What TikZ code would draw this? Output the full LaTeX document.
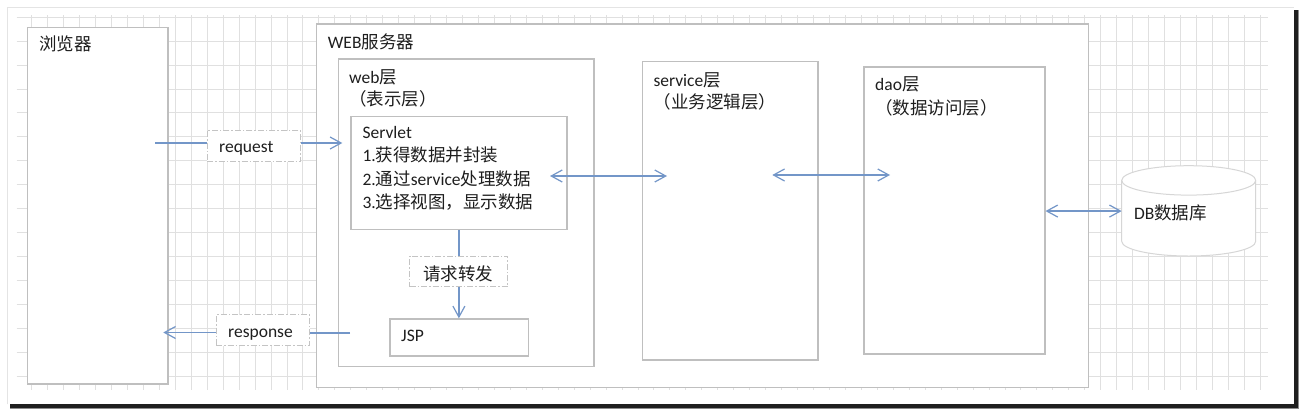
\documentclass[tikz,border=0pt]{standalone}
\usepackage{fontspec}
\setmainfont{Carlito}
\newfontfamily\cjk{Noto Sans CJK SC}
\usetikzlibrary{arrows.meta}
\definecolor{boxcol}{HTML}{BFBFBF}
\definecolor{gridcol}{HTML}{E0E0E0}
\definecolor{arrowcol}{RGB}{115,150,200}
\definecolor{dashcol}{HTML}{C4C4C4}
\definecolor{textcol}{HTML}{1E1E1E}
\definecolor{cylcol}{HTML}{D6D6D6}
\definecolor{pageedge}{HTML}{E4E4E4}
\newcommand{\zh}[1]{{\cjk #1}}
\begin{document}
\begin{tikzpicture}[x=1pt,y=-1pt,
  >={Straight Barb[length=11pt,width=12pt]},
  wbox/.style={draw=boxcol, line width=1.2pt, fill=white, inner sep=0pt, anchor=north west},
  dbox/.style={draw=dashcol, line width=1pt, fill=white, inner sep=0pt, anchor=north west,
     dash pattern=on 6pt off 2pt on 1.5pt off 2pt},
  gridline/.style={draw=gridcol, line width=0.9pt},
  conn/.style={draw=arrowcol, line width=1.2pt},
  t/.style={inner sep=0pt, anchor=base west, font=\fontsize{17.5pt}{21pt}\selectfont, text=textcol}]
\useasboundingbox (0,0) rectangle (1301,413);
\fill[white] (0,0) rectangle (1301,413);
% page with shadow
\fill[black!45] (10,10) rectangle (1299,409.3);
\fill[black!88] (9.5,9.5) rectangle (1298.2,408.3);
\fill[white] (7.3,7.3) rectangle (1293.5,404.3);
\draw[pageedge, line width=0.8pt] (7.3,404.3) -- (7.3,7.3) -- (1293.5,7.3);
% grid
\foreach \k in {1,...,78} \draw[gridline] ({15.7+15.956*\k},15) -- ({15.7+15.956*\k},390);
\foreach \k in {0,...,15} \draw[gridline] (16.7,{17.3+23.91*\k}) -- (1268.3,{17.3+23.91*\k});
% boxes
\node[wbox, minimum width=140.6pt, minimum height=356.6pt] (browser) at (26.7,26.7) {};
\node[wbox, minimum width=772pt, minimum height=363.4pt] (server) at (315.7,23.3) {};
\node[wbox, minimum width=255.6pt, minimum height=307.7pt] (weblayer) at (337.7,58.3) {};
\node[wbox, minimum width=216pt, minimum height=113pt] (servlet) at (350.3,115.7) {};
\node[wbox, minimum width=138.4pt, minimum height=37pt] (jsp) at (389.3,318.3) {};
\node[wbox, minimum width=175.6pt, minimum height=298.3pt] (service) at (641.7,61) {};
\node[wbox, minimum width=181pt, minimum height=287pt] (dao) at (863.3,66.3) {};
% database cylinder
\path[fill=white, draw=cylcol, line width=1pt] (1121.7,180.4) -- (1121.7,241.3)
   arc[start angle=180, end angle=360, x radius=67pt, y radius=14.7pt] -- (1255.7,180.4)
   arc[start angle=0, end angle=180, x radius=67pt, y radius=14.7pt] -- cycle;
\draw[cylcol, line width=1pt] (1121.7,180.4) arc[start angle=180, end angle=360, x radius=67pt, y radius=14.7pt];
\node[inner sep=0pt, minimum width=134pt, minimum height=90.3pt, anchor=north west] (db) at (1121.7,165.7) {};
% dashed label boxes
\node[dbox, minimum width=93.3pt, minimum height=31pt] (reqbox) at (206.7,130) {};
\node[dbox, minimum width=93.3pt, minimum height=30.7pt] (respbox) at (215.7,314.3) {};
\node[dbox, minimum width=98.3pt, minimum height=30.3pt] (fwdbox) at (409.15,255.7) {};
% free ends of connectors
\coordinate (reqstart) at (155,143);
\coordinate (reqend) at (342.3,143);
\coordinate (respstart) at (350,333);
\coordinate (respend) at (163.3,332.5);
\coordinate (sa) at (550,176);
\coordinate (sb) at (667,176);
\coordinate (da) at (772.3,175);
\coordinate (db2) at (890,175);
% connectors
\draw[conn] (reqstart) -- (reqstart -| reqbox.west);
\draw[conn, ->] (reqbox.east |- reqend) -- (reqend);
\draw[conn] (respstart) -- (respstart -| respbox.east);
\draw[conn, ->] (respbox.west |- respend) -- (respend);
\draw[conn] (servlet.south) -- (servlet.south |- fwdbox.north);
\draw[conn, ->] (servlet.south |- fwdbox.south) -- (servlet.south |- jsp.north);
\draw[conn, <->] (sa) -- (sb);
\draw[conn, <->] (da) -- (db2);
\draw[conn, <->] (dao.east |- db.west) -- (db.west);
% texts
\node[t] (tbrowser) at (39,50.6) {\zh{浏览器}};
\node[t] (tweb) at (327.7,48.3) {WEB\zh{服务器}};
\node[t] (tweblayer) at (349,83.3) {web\zh{层}};
\node[t] (tweblayer2) at (349,105.6) {\zh{（表示层）}};
\node[t] (tsl0) at (362.3,138.3) {Servlet};
\node[t] (tsl1) at (362.3,161.7) {1.\zh{获得数据并封装}};
\node[t] (tsl2) at (362.3,185.1) {2.\zh{通过}service\zh{处理数据}};
\node[t] (tsl3) at (362.3,208.5) {3.\zh{选择视图，显示数据}};
\node[t] (tjsp) at (401,341.5) {JSP};
\node[t, anchor=base] (tfwd) at (458.3,280) {\zh{请求转发}};
\node[t] (treq) at (219,152.5) {request};
\node[t] (tresp) at (228,337) {response};
\node[t] (tsvc) at (653.3,86) {service\zh{层}};
\node[t] (tsvc2) at (653.3,108.3) {\zh{（业务逻辑层）}};
\node[t] (tdao) at (875,90.7) {dao\zh{层}};
\node[t] (tdao2) at (875,114) {\zh{（数据访问层）}};
\node[t] (tdb) at (1134,219.7) {DB\zh{数据库}};
\end{tikzpicture}
\end{document}
